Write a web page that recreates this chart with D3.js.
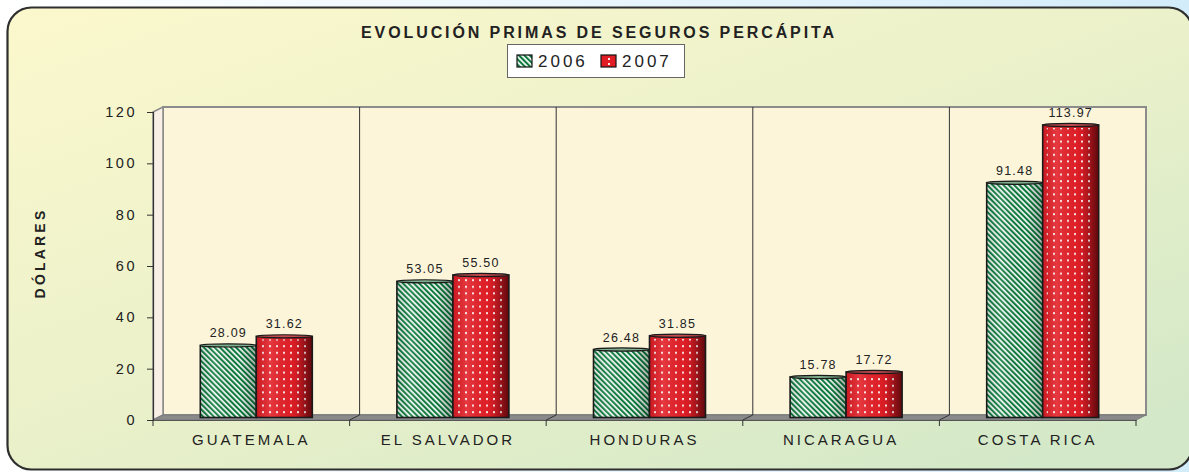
<!DOCTYPE html>
<html>
<head>
<meta charset="utf-8">
<script src="https://cdn.jsdelivr.net/npm/d3@7.9.0/dist/d3.min.js"></script>
<style>
  html, body { margin: 0; padding: 0; }
  body { width: 1189px; height: 472px; overflow: hidden; }
  svg { display: block; font-family: Arial, 'Liberation Sans', sans-serif; }
</style>
</head>
<body>
<svg id="chart" width="1189" height="472"></svg>
<script>
const categories = ['GUATEMALA', 'EL SALVADOR', 'HONDURAS', 'NICARAGUA', 'COSTA RICA'];
const series = ['2006', '2007'];
const values2006 = [28.09, 53.05, 26.48, 15.78, 91.48];
const values2007 = [31.62, 55.50, 31.85, 17.72, 113.97];
const yTicks = [0, 20, 40, 60, 80, 100, 120];

const title = 'EVOLUCIÓN PRIMAS DE SEGUROS PERCÁPITA';
const yTitle = 'DÓLARES';

const svg = d3.select('#chart');
const W = 1189, H = 472;
const DX = 10, DY = -5; // depth of the 3d box

const x = d3.scaleBand().domain(categories).range([153, 1136]);
const y = d3.scaleLinear().domain([0, 120]).range([420, 112]);
const groupW = 112;
const xs = d3.scaleBand().domain(series)
  .range([(x.bandwidth() - groupW) / 2, (x.bandwidth() + groupW) / 2]);

const defs = svg.append('defs');

// page + frame gradients
const pageGrad = defs.append('linearGradient').attr('id', 'pageGrad')
  .attr('x1', 0).attr('y1', 0).attr('x2', 1).attr('y2', 0);
pageGrad.append('stop').attr('offset', 0).attr('stop-color', '#ffffff');
pageGrad.append('stop').attr('offset', 1).attr('stop-color', '#d3ecfa');

const frameGrad = defs.append('linearGradient').attr('id', 'frameGrad')
  .attr('x1', 0).attr('y1', 0).attr('x2', 0.9).attr('y2', 1);
frameGrad.append('stop').attr('offset', 0).attr('stop-color', '#fcf8cd');
frameGrad.append('stop').attr('offset', 0.5).attr('stop-color', '#ebf1ca');
frameGrad.append('stop').attr('offset', 1).attr('stop-color', '#d2e8c8');

// green stripes
const stripes = defs.append('pattern').attr('id', 'stripes')
  .attr('patternUnits', 'userSpaceOnUse').attr('width', 3.8).attr('height', 3.8)
  .attr('patternTransform', 'rotate(-45)');
stripes.append('rect').attr('width', 3.8).attr('height', 3.8).attr('fill', '#ffffff');
stripes.append('rect').attr('width', 2.1).attr('height', 3.8).attr('fill', '#0b7a3c');

// red with white dots
const dots = defs.append('pattern').attr('id', 'dots')
  .attr('patternUnits', 'userSpaceOnUse').attr('width', 7).attr('height', 6.6)
  .attr('x', 2).attr('y', 1);
dots.append('rect').attr('x', 1).attr('y', 1).attr('width', 2).attr('height', 2)
  .attr('fill', '#fbe6e6');

const redGrad = defs.append('linearGradient').attr('id', 'redGrad');
redGrad.append('stop').attr('offset', 0).attr('stop-color', '#e21c25');
redGrad.append('stop').attr('offset', 0.6).attr('stop-color', '#e41f27');
redGrad.append('stop').attr('offset', 0.82).attr('stop-color', '#bf1820');
redGrad.append('stop').attr('offset', 1).attr('stop-color', '#8a0d12');

const shade = defs.append('linearGradient').attr('id', 'shade');
shade.append('stop').attr('offset', 0).attr('stop-color', '#000').attr('stop-opacity', 0.1);
shade.append('stop').attr('offset', 0.25).attr('stop-color', '#fff').attr('stop-opacity', 0.12);
shade.append('stop').attr('offset', 0.7).attr('stop-color', '#000').attr('stop-opacity', 0);
shade.append('stop').attr('offset', 1).attr('stop-color', '#000').attr('stop-opacity', 0.3);

// background
svg.append('rect').attr('width', W).attr('height', H).attr('fill', 'url(#pageGrad)');
svg.append('rect')
  .attr('x', 7.5).attr('y', 7.5).attr('width', 1185).attr('height', 462)
  .attr('rx', 24).attr('ry', 24)
  .attr('fill', 'url(#frameGrad)')
  .attr('stroke', '#2e2e2e').attr('stroke-width', 2.2);

// 3d walls
const x0 = x.range()[0], x1 = x.range()[1];
const yTop = y(120), yBot = y(0);

svg.append('rect')
  .attr('x', x0 + DX).attr('y', yTop + DY)
  .attr('width', x1 - x0).attr('height', yBot - yTop)
  .attr('fill', '#fcf5da')
  .attr('stroke', '#8c8c8c').attr('stroke-width', 2);

svg.append('path')
  .attr('d', `M${x0},${yTop}L${x0 + DX},${yTop + DY}L${x0 + DX},${yBot + DY}L${x0},${yBot}Z`)
  .attr('fill', '#f8efe6').attr('stroke', '#8c8c8c').attr('stroke-width', 1.5);

svg.append('path')
  .attr('d', `M${x0},${yBot}L${x0 + DX},${yBot + DY}L${x1 + DX},${yBot + DY}L${x1},${yBot}Z`)
  .attr('fill', '#8a8a8a').attr('stroke', '#7a7a7a').attr('stroke-width', 1);

// category separators on back wall and floor
categories.slice(1).forEach((c) => {
  const cx = x(c);
  svg.append('line')
    .attr('x1', cx + DX).attr('x2', cx + DX)
    .attr('y1', yTop + DY).attr('y2', yBot + DY)
    .attr('stroke', '#333').attr('stroke-width', 1);
  svg.append('line')
    .attr('x1', cx).attr('x2', cx + DX)
    .attr('y1', yBot).attr('y2', yBot + DY)
    .attr('stroke', '#333').attr('stroke-width', 1);
});

// axes
const yAxis = svg.append('g').attr('transform', `translate(${x0},0)`)
  .call(d3.axisLeft(y).tickValues(yTicks).tickSize(6).tickPadding(10));
yAxis.select('.domain').attr('stroke', '#333').attr('stroke-width', 1.2);
yAxis.selectAll('.tick line').attr('stroke', '#333');
yAxis.selectAll('text')
  .attr('font-size', 14.5).attr('fill', '#222').attr('letter-spacing', 2.5)
  .attr('font-family', 'Arial, Liberation Sans, sans-serif');

const xAxis = svg.append('g').attr('transform', `translate(0,${yBot})`)
  .call(d3.axisBottom(x).tickSize(0).tickPadding(14));
xAxis.select('.domain').attr('stroke', '#555').attr('stroke-width', 1.2);
xAxis.selectAll('text')
  .attr('font-size', 15).attr('fill', '#222').attr('letter-spacing', 3)
  .attr('font-family', 'Arial, Liberation Sans, sans-serif');
categories.concat(['_end']).forEach((c, i) => {
  const tx = i < categories.length ? x(c) : x1;
  svg.append('line').attr('x1', tx).attr('x2', tx)
    .attr('y1', yBot).attr('y2', yBot + 6)
    .attr('stroke', '#333').attr('stroke-width', 1);
});

// bars
const seriesData = [values2006, values2007];
const fills = ['url(#stripes)', 'url(#redGrad)'];
categories.forEach((c, i) => {
  series.forEach((s, j) => {
    const v = seriesData[j][i];
    const bx = x(c) + xs(s) + DX / 2;
    const bw = xs.bandwidth();
    const by = y(v) + DY / 2;
    const bh = y(0) - y(v);
    const g = svg.append('g');
    g.append('rect').attr('x', bx).attr('y', by).attr('width', bw).attr('height', bh)
      .attr('fill', fills[j]);
    if (j === 1) {
      g.append('rect').attr('x', bx + 4).attr('y', by + 3).attr('width', bw - 8).attr('height', bh - 5)
        .attr('fill', 'url(#dots)');
    }
    g.append('rect').attr('x', bx).attr('y', by).attr('width', bw).attr('height', bh)
      .attr('fill', 'url(#shade)')
      .attr('stroke', '#1a1a1a').attr('stroke-width', 1.6);
    g.append('ellipse').attr('cx', bx + bw / 2).attr('cy', by)
      .attr('rx', bw / 2).attr('ry', 1.6)
      .attr('fill', j === 0 ? '#7fae8c' : '#c44a4f')
      .attr('stroke', '#1a1a1a').attr('stroke-width', 1.2);
    g.append('text')
      .attr('x', bx + bw / 2).attr('y', by - 8)
      .attr('text-anchor', 'middle')
      .attr('font-size', 12.5).attr('letter-spacing', 1.2).attr('fill', '#222')
      .text(v.toFixed(2));
  });
});

// title
svg.append('text')
  .attr('x', 599).attr('y', 38)
  .attr('text-anchor', 'middle')
  .attr('font-size', 16).attr('font-weight', 'bold').attr('letter-spacing', 2.9)
  .attr('fill', '#222')
  .text(title);

// legend
const legend = svg.append('g');
legend.append('rect').attr('x', 507.5).attr('y', 44.5).attr('width', 177).attr('height', 33)
  .attr('fill', '#fff').attr('stroke', '#666').attr('stroke-width', 1);
const legendX = [517, 601];
series.forEach((s, j) => {
  legend.append('rect').attr('x', legendX[j]).attr('y', 55).attr('width', 15).attr('height', 12)
    .attr('fill', j === 0 ? 'url(#stripes)' : '#e21c25')
    .attr('stroke', '#111').attr('stroke-width', 1.2);
  if (j === 1) {
    legend.append('rect').attr('x', legendX[j] + 7).attr('y', 58).attr('width', 2).attr('height', 2).attr('fill', '#fbe6e6');
    legend.append('rect').attr('x', legendX[j] + 7).attr('y', 63).attr('width', 2).attr('height', 2).attr('fill', '#fbe6e6');
  }
  legend.append('text')
    .attr('x', legendX[j] + 21).attr('y', 67)
    .attr('font-size', 17).attr('letter-spacing', 3).attr('fill', '#222')
    .text(s);
});

// y axis title
svg.append('text')
  .attr('transform', 'translate(45,253) rotate(-90)')
  .attr('text-anchor', 'middle')
  .attr('font-size', 14).attr('font-weight', 'bold').attr('letter-spacing', 3.2)
  .attr('fill', '#222')
  .text(yTitle);
</script>
</body>
</html>
